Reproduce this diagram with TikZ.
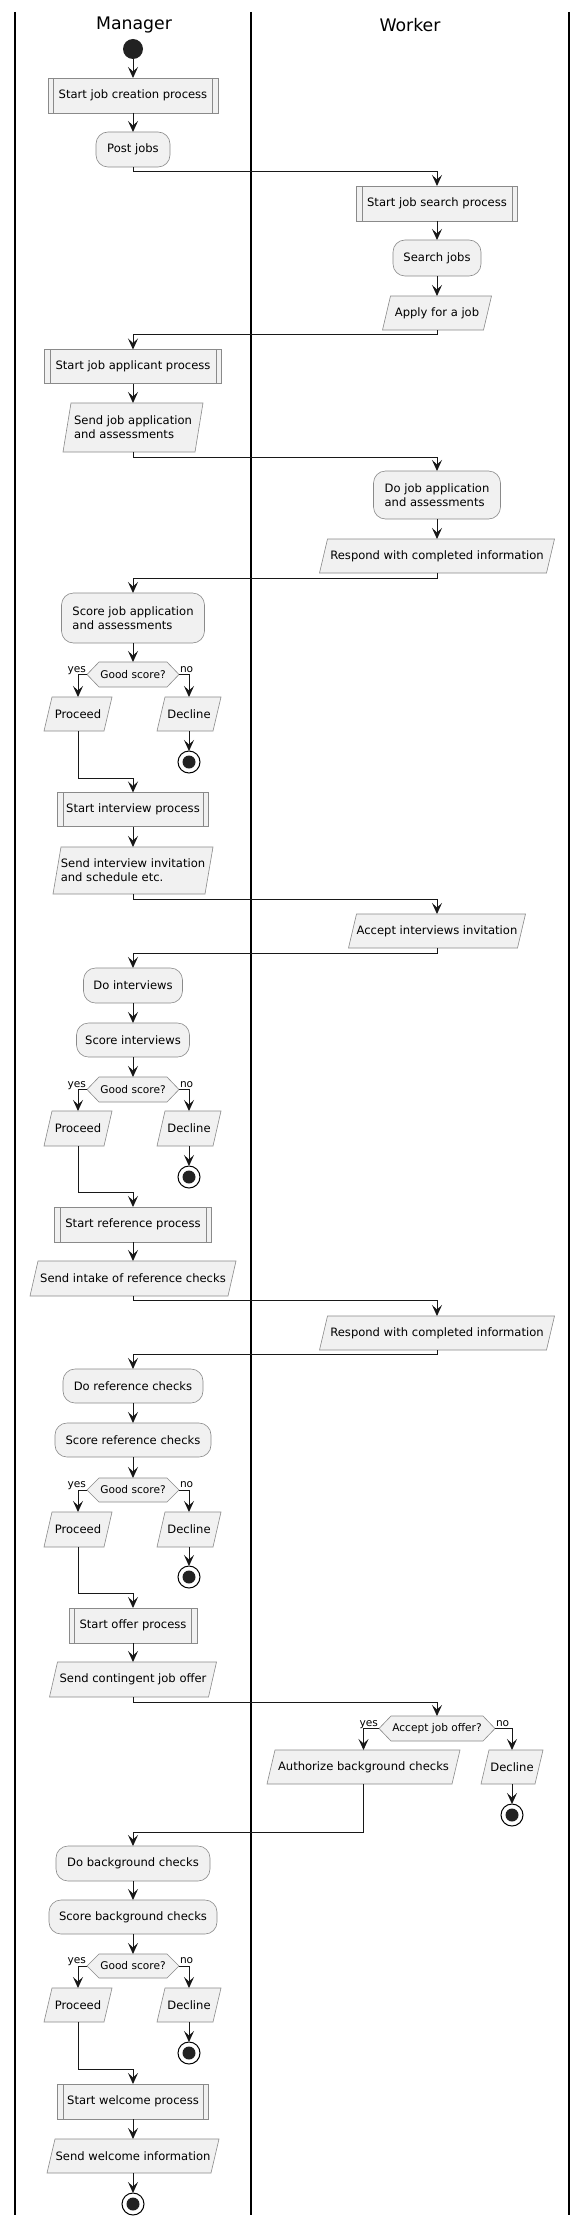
\documentclass[tikz,border=0pt]{standalone}
\usepackage{fontspec}
\setmainfont{DejaVu Sans}
\usetikzlibrary{arrows.meta,backgrounds}
\pgfdeclarelayer{bottom}
\pgfsetlayers{bottom,background,main}
\definecolor{actfill}{HTML}{F1F1F1}
\definecolor{actborder}{HTML}{8A8A8A}
\definecolor{flowc}{HTML}{181818}
\definecolor{startfill}{HTML}{222222}
\begin{document}
\begin{tikzpicture}[x=1pt,y=-1pt,
  every node/.style={inner sep=0pt, outer sep=0pt, font=\fontsize{11.56}{13.7}\selectfont, align=left},
  act/.style={draw=actborder, line width=0.6pt, fill=actfill, rounded corners=12pt},
  sub/.style={draw=actborder, line width=0.6pt, fill=actfill},
  io/.style={},
  hexa/.style={font=\fontsize{10.6}{12}\selectfont},
  shapebg/.style={draw=actborder, line width=0.6pt, fill=actfill},
  subline/.style={draw=actborder, line width=0.6pt},
  lbl/.style={font=\fontsize{10.6}{12}\selectfont},
  flow/.style={draw=flowc, line width=1pt, -{Stealth[length=11pt,width=10pt,inset=4.5pt]}},
  lane/.style={line width=1.2pt, black},
  hdr/.style={font=\fontsize{17.3}{20}\selectfont},
  startc/.style={circle, fill=startfill, minimum size=20pt},
  endc/.style={circle, draw=black, line width=1pt, fill=white, minimum size=22pt,
    path picture={\fill[startfill] (path picture bounding box.center) circle (6.5pt);}},
]
\useasboundingbox (0,0) rectangle (582,2226);
\begin{pgfonlayer}{bottom}
\fill[white] (0,0) rectangle (582,2226);
\end{pgfonlayer}

% swimlanes
\draw[lane] (15,12) -- (15,2215);
\draw[lane] (251,12) -- (251,2215);
\draw[lane] (569,12) -- (569,2215);
\node[hdr] (hm) at (134,25) {Manager};
\node[hdr] (hw) at (410,25) {Worker};

% nodes
\node[startc] (start) at (133,49) {};
\node[sub, minimum width=170pt, minimum height=35pt] (sjc) at (133,95.5) {Start job creation process};
\node[act, minimum width=74pt, minimum height=35pt] (post) at (133,149.5) {Post jobs};
\node[sub, minimum width=161pt, minimum height=35pt] (sjs) at (437,203.5) {Start job search process};
\node[act, minimum width=88pt, minimum height=36pt] (search) at (437,258) {Search jobs};
\node[io, minimum width=109pt, minimum height=34pt] (apply) at (437,313) {Apply for a job};
\node[sub, minimum width=177pt, minimum height=34pt] (sja) at (133,366.5) {Start job applicant process};
\node[io, minimum width=140pt, minimum height=49pt] (sendapp) at (133,427.5) {Send job application\\and assessments};
\node[act, minimum width=127pt, minimum height=48pt] (doapp) at (437,495) {Do job application\\and assessments};
\node[io, minimum width=235pt, minimum height=34pt] (resp1) at (437,556) {Respond with completed information};
\node[act, minimum width=143pt, minimum height=50pt] (scoreapp) at (133,618) {Score job application\\and assessments};
\node[hexa, minimum width=92pt, minimum height=25pt] (d1) at (133,674.5) {Good score?};
\node[io, minimum width=68pt, minimum height=34pt] (proc1) at (78,714) {Proceed};
\node[io, minimum width=64pt, minimum height=34pt] (dec1) at (189,714) {Decline};
\node[endc] (end1) at (189,762) {};
\node[sub, minimum width=151pt, minimum height=34pt] (sip) at (133,809.5) {Start interview process};
\node[io, minimum width=160pt, minimum height=47pt] (sendinv) at (133,870.5) {Send interview invitation\\and schedule etc.};
\node[io, minimum width=177pt, minimum height=34pt] (accinv) at (437,931) {Accept interviews invitation};
\node[act, minimum width=99pt, minimum height=35pt] (doint) at (133,985.5) {Do interviews};
\node[act, minimum width=113pt, minimum height=34pt] (scoreint) at (133,1040) {Score interviews};
\node[hexa, minimum width=92pt, minimum height=25pt] (d2) at (133,1089.5) {Good score?};
\node[io, minimum width=68pt, minimum height=35pt] (proc2) at (78,1128.5) {Proceed};
\node[io, minimum width=64pt, minimum height=35pt] (dec2) at (189,1128.5) {Decline};
\node[endc] (end2) at (189,1177) {};
\node[sub, minimum width=157pt, minimum height=35pt] (srp) at (133,1224.5) {Start reference process};
\node[io, minimum width=206pt, minimum height=35pt] (sendref) at (133,1278.5) {Send intake of reference checks};
\node[io, minimum width=235pt, minimum height=34pt] (resp2) at (437,1333) {Respond with completed information};
\node[act, minimum width=140pt, minimum height=34pt] (doref) at (133,1386) {Do reference checks};
\node[act, minimum width=156pt, minimum height=34pt] (scoreref) at (133,1440) {Score reference checks};
\node[hexa, minimum width=92pt, minimum height=24pt] (d3) at (133,1490) {Good score?};
\node[io, minimum width=68pt, minimum height=35pt] (proc3) at (78,1529.5) {Proceed};
\node[io, minimum width=64pt, minimum height=35pt] (dec3) at (189,1529.5) {Decline};
\node[endc] (end3) at (189,1577) {};
\node[sub, minimum width=128pt, minimum height=35pt] (sop) at (133,1625.5) {Start offer process};
\node[io, minimum width=167pt, minimum height=35pt] (sendoffer) at (133,1679.5) {Send contingent job offer};
\node[hexa, minimum width=116pt, minimum height=25pt] (d4) at (437,1728.5) {Accept job offer?};
\node[io, minimum width=193pt, minimum height=34pt] (auth) at (363.5,1767) {Authorize background checks};
\node[io, minimum width=62pt, minimum height=34pt] (dec4) at (512,1767) {Decline};
\node[endc] (end4) at (512,1815) {};
\node[act, minimum width=154pt, minimum height=35pt] (dobg) at (133,1863.5) {Do background checks};
\node[act, minimum width=168pt, minimum height=34pt] (scorebg) at (133,1917) {Score background checks};
\node[hexa, minimum width=92pt, minimum height=24pt] (d5) at (133,1966) {Good score?};
\node[io, minimum width=68pt, minimum height=34pt] (proc5) at (78,2005) {Proceed};
\node[io, minimum width=64pt, minimum height=34pt] (dec5) at (189,2005) {Decline};
\node[endc] (end5) at (189,2053) {};
\node[sub, minimum width=151pt, minimum height=35pt] (swp) at (133,2101.5) {Start welcome process};
\node[io, minimum width=172pt, minimum height=34pt] (sendwel) at (133,2156) {Send welcome information};
\node[endc] (endf) at (133,2204) {};

% shape outlines behind text
\begin{scope}[on background layer]
\foreach \nm in {apply,sendapp,resp1,proc1,dec1,sendinv,accinv,proc2,dec2,sendref,resp2,proc3,dec3,sendoffer,auth,dec4,proc5,dec5,sendwel}
  \path[shapebg] ([xshift=8pt]\nm.north west) -- (\nm.north east) -- ([xshift=-8pt]\nm.south east) -- (\nm.south west) -- cycle;
\foreach \nm in {d1,d2,d3,d4,d5}
  \path[shapebg] (\nm.west) -- ([xshift=12pt]\nm.north west) -- ([xshift=-12pt]\nm.north east) -- (\nm.east) -- ([xshift=-12pt]\nm.south east) -- ([xshift=12pt]\nm.south west) -- cycle;
\end{scope}
\foreach \nm in {sjc,sjs,sja,sip,srp,sop,swp}
  \draw[subline] ([xshift=5.5pt]\nm.north west) -- ([xshift=5.5pt]\nm.south west)
                 ([xshift=-5.5pt]\nm.north east) -- ([xshift=-5.5pt]\nm.south east);

% connectors
\draw[flow] (start) -- (sjc);
\draw[flow] (sjc) -- (post);
\draw[flow] (post.south) -- ++(0,5) -| (sjs.north);
\draw[flow] (sjs) -- (search);
\draw[flow] (search) -- (apply);
\draw[flow] (apply.south) -- ++(0,4.5) -| (sja.north);
\draw[flow] (sja) -- (sendapp);
\draw[flow] (sendapp.south) -- ++(0,5) -| (doapp.north);
\draw[flow] (doapp) -- (resp1);
\draw[flow] (resp1.south) -- ++(0,5) -| (scoreapp.north);
\draw[flow] (scoreapp) -- (d1);
\draw[flow] (d1.west) -| (proc1.north);
\draw[flow] (d1.east) -| (dec1.north);
\draw[flow] (dec1) -- (end1);
\draw[flow] (proc1.south) -- ++(0,47) -| (sip.north);
\draw[flow] (sip) -- (sendinv);
\draw[flow] (sendinv.south) -- ++(0,5) -| (accinv.north);
\draw[flow] (accinv.south) -- ++(0,5) -| (doint.north);
\draw[flow] (doint) -- (scoreint);
\draw[flow] (scoreint) -- (d2);
\draw[flow] (d2.west) -| (proc2.north);
\draw[flow] (d2.east) -| (dec2.north);
\draw[flow] (dec2) -- (end2);
\draw[flow] (proc2.south) -- ++(0,46) -| (srp.north);
\draw[flow] (srp) -- (sendref);
\draw[flow] (sendref.south) -- ++(0,4.5) -| (resp2.north);
\draw[flow] (resp2.south) -- ++(0,4.5) -| (doref.north);
\draw[flow] (doref) -- (scoreref);
\draw[flow] (scoreref) -- (d3);
\draw[flow] (d3.west) -| (proc3.north);
\draw[flow] (d3.east) -| (dec3.north);
\draw[flow] (dec3) -- (end3);
\draw[flow] (proc3.south) -- ++(0,46) -| (sop.north);
\draw[flow] (sop) -- (sendoffer);
\draw[flow] (sendoffer.south) -- ++(0,5) -| (d4.north);
\draw[flow] (d4.west) -| (auth.north);
\draw[flow] (d4.east) -| (dec4.north);
\draw[flow] (dec4) -- (end4);
\draw[flow] (auth.south) -- ++(0,48) -| (dobg.north);
\draw[flow] (dobg) -- (scorebg);
\draw[flow] (scorebg) -- (d5);
\draw[flow] (d5.west) -| (proc5.north);
\draw[flow] (d5.east) -| (dec5.north);
\draw[flow] (dec5) -- (end5);
\draw[flow] (proc5.south) -- ++(0,47) -| (swp.north);
\draw[flow] (swp) -- (sendwel);
\draw[flow] (sendwel) -- (endf);

% branch labels
\foreach \nm in {d1,d2,d3,d4,d5} {
  \node[lbl, anchor=base east] (y\nm) at ([shift={(-1pt,2.5pt)}]\nm.west) {yes};
  \node[lbl, anchor=base west] (n\nm) at ([shift={(1pt,2.5pt)}]\nm.east) {no};
}
\end{tikzpicture}
\end{document}
